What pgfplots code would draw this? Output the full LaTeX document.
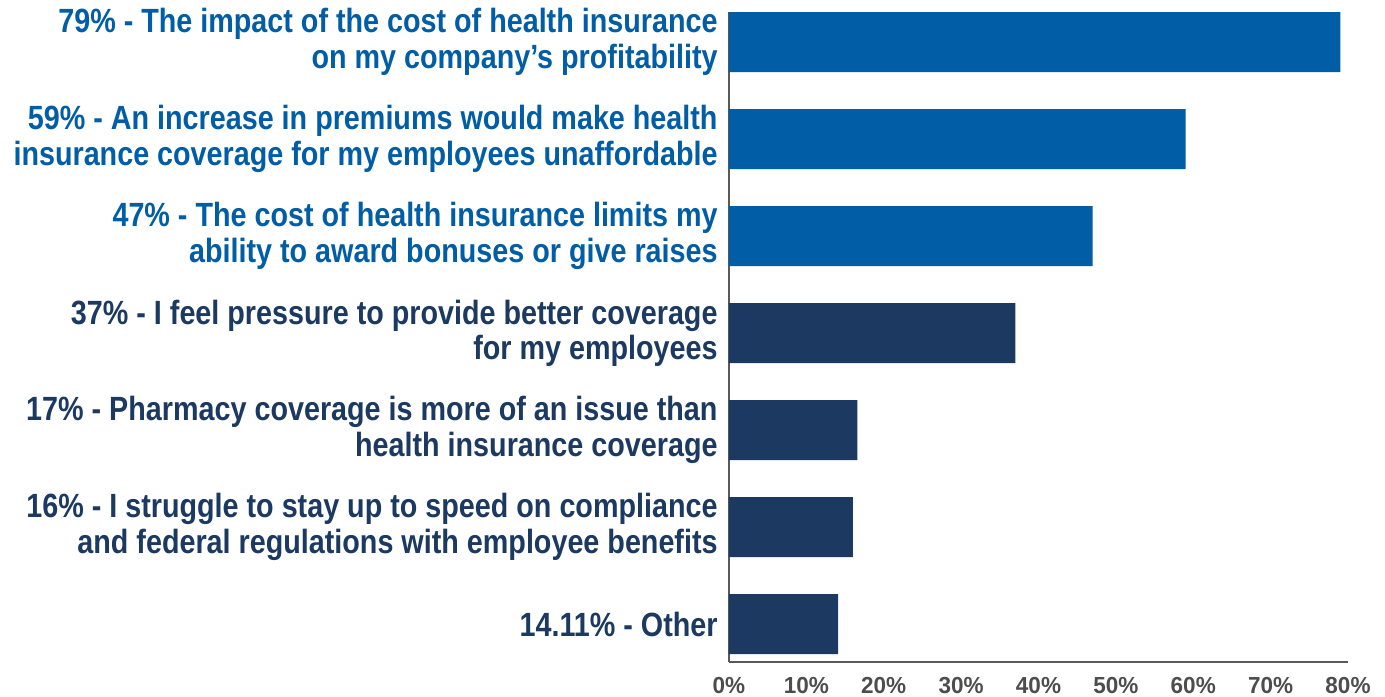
\documentclass[border=0pt]{standalone}
\usepackage{pgfplots}
\pgfplotsset{compat=1.18}
\usepackage{fontspec}
\setmainfont{Liberation Sans}[FakeStretch=0.855]
\newfontfamily\tickfont{Liberation Sans}[FakeStretch=0.97]
\definecolor{blueA}{HTML}{005DA6}
\definecolor{navyA}{HTML}{1B3961}
\definecolor{tickgray}{HTML}{4D4D4D}
\definecolor{axisgray}{HTML}{595959}
\begin{document}
\begin{tikzpicture}
\useasboundingbox (-364.5pt,-17pt) rectangle (328pt,331pt);
\begin{axis}[
 scale only axis, width=309.5pt, height=325pt,
 xmin=0, xmax=80, ymin=-0.39, ymax=6.31,
 xbar, bar width=30pt, bar shift=0pt,
 axis x line*=bottom, axis y line*=left,
 axis line style={axisgray, line width=0.75pt, -},
 xtick={0,10,...,80},
 xticklabels={0\%,10\%,20\%,30\%,40\%,50\%,60\%,70\%,80\%},
 xticklabel style={font=\tickfont\bfseries\fontsize{11.6}{13}\selectfont, text=tickgray, anchor=north, inner sep=0pt, yshift=-7.5pt},
 ytick={0,...,6},
 yticklabels={
  {14.11\% - Other},
  {16\% - I struggle to stay up to speed on compliance\\and federal regulations with employee benefits},
  {17\% - Pharmacy coverage is more of an issue than\\health insurance coverage},
  {37\% - I feel pressure to provide better coverage\\for my employees},
  {\color{blueA}47\% - The cost of health insurance limits my\\\color{blueA}ability to award bonuses or give raises},
  {\color{blueA}59\% - An increase in premiums would make health\\\color{blueA}insurance coverage for my employees unaffordable},
  {\color{blueA}79\% - The impact of the cost of health insurance\\\color{blueA}on my company’s profitability}
 },
 yticklabel style={font=\bfseries\fontsize{16.8}{17.8}\selectfont, align=right, anchor=east, inner sep=0pt, xshift=-5.5pt, text=navyA},
 major tick length=0pt,
 clip=false,
]
\addplot[fill=navyA, draw=none] coordinates {(14.11,0) (16,1) (16.6,2) (37,3)};
\addplot[fill=blueA, draw=none] coordinates {(47,4) (59,5) (79,6)};
\end{axis}
\end{tikzpicture}
\end{document}
